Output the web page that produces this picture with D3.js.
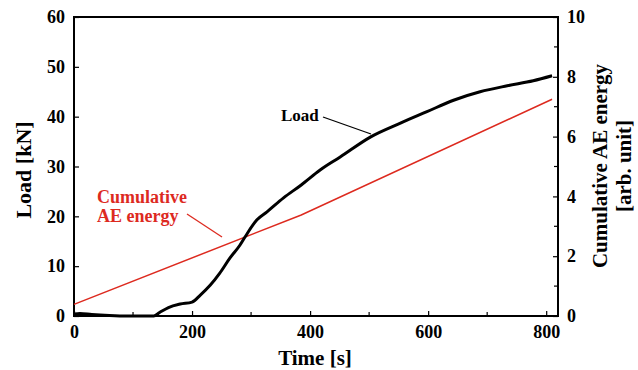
<!DOCTYPE html>
<html>
<head>
<meta charset="utf-8">
<script src="https://cdn.jsdelivr.net/npm/d3@7"></script>
<style>
  body { margin: 0; background: #fff; }
  svg text { font-family: "Liberation Serif", "Times New Roman", serif; font-weight: bold; }
</style>
</head>
<body>
<div id="chart"></div>
<script>
// load curve: [time s, load kN]
const load_time = [0, 10, 30, 60, 90, 135, 145, 160, 180, 200, 214, 231, 247, 264, 281, 290, 310, 327, 355, 385, 417, 451, 502, 553, 598, 643, 688, 734, 778, 810];
const load_kn = [0.4, 0.5, 0.3, 0.1, 0, 0, 0.7, 1.7, 2.4, 2.8, 4.2, 6.2, 8.6, 11.6, 14.2, 15.9, 19.3, 20.9, 23.7, 26.3, 29.3, 31.9, 35.9, 38.7, 41, 43.3, 45, 46.2, 47.2, 48.2];

// cumulative AE energy (right axis, arb. unit)
const ae_time = [0, 385, 810];
const ae_energy = [0.39, 3.38, 7.25];

const x_ticks = [0, 200, 400, 600, 800];
const x_minor = [100, 300, 500, 700];
const left_ticks = [0, 10, 20, 30, 40, 50, 60];
const right_ticks = [0, 2, 4, 6, 8, 10];
const right_minor = [1, 3, 5, 7, 9];

const width = 638, height = 370;
const margin = { left: 74, right: 80, top: 17, bottom: 54 };
const red = '#dd2a1f';

let svg = d3.select('#chart')
    .append('svg')
    .attr('width', width)
    .attr('height', height);

let x = d3.scaleLinear().domain([0, 820]).range([margin.left, width - margin.right]);
let y_left = d3.scaleLinear().domain([0, 60]).range([height - margin.bottom, margin.top]);
let y_right = d3.scaleLinear().domain([0, 10]).range([height - margin.bottom, margin.top]);

let plot_bottom = height - margin.bottom;
let plot_right = width - margin.right;

// ticks point inward
let ax_bottom = svg.append('g')
    .attr('transform', 'translate(0,' + plot_bottom + ')')
    .call(d3.axisBottom(x).tickValues(x_ticks).tickSizeInner(-5).tickSizeOuter(0).tickPadding(9));
ax_bottom.selectAll('.minor')
    .data(x_minor).enter()
    .append('line')
    .attr('x1', d => x(d)).attr('x2', d => x(d))
    .attr('y1', 0).attr('y2', -4)
    .attr('stroke', '#000').attr('stroke-width', 1.2);

let ax_left = svg.append('g')
    .attr('transform', 'translate(' + margin.left + ',0)')
    .call(d3.axisLeft(y_left).tickValues(left_ticks).tickSizeInner(-5).tickSizeOuter(0).tickPadding(9));

let ax_right = svg.append('g')
    .attr('transform', 'translate(' + plot_right + ',0)')
    .call(d3.axisRight(y_right).tickValues(right_ticks).tickSizeInner(-5).tickSizeOuter(0).tickPadding(9));
ax_right.selectAll('.minor')
    .data(right_minor).enter()
    .append('line')
    .attr('y1', d => y_right(d)).attr('y2', d => y_right(d))
    .attr('x1', 0).attr('x2', -4)
    .attr('stroke', '#000').attr('stroke-width', 1.2);

[ax_bottom, ax_left, ax_right].forEach(function (g) {
    g.select('.domain').remove();
    g.selectAll('.tick line').attr('stroke-width', 1.2);
    g.selectAll('.tick text')
        .attr('fill', '#000')
        .style('font-size', '18px');
});

// frame
svg.append('rect')
    .attr('x', margin.left)
    .attr('y', margin.top)
    .attr('width', plot_right - margin.left)
    .attr('height', plot_bottom - margin.top)
    .attr('fill', 'none')
    .attr('stroke', '#000')
    .attr('stroke-width', 2);

// AE energy line
let ae_line = d3.line()
    .x((d, i) => x(ae_time[i]))
    .y(d => y_right(d));
svg.append('path')
    .attr('d', ae_line(ae_energy))
    .attr('fill', 'none')
    .attr('stroke', red)
    .attr('stroke-width', 1.5);

// load curve
let load_line = d3.line()
    .x((d, i) => x(load_time[i]))
    .y(d => y_left(d))
    .curve(d3.curveMonotoneX);
svg.append('path')
    .attr('d', load_line(load_kn))
    .attr('fill', 'none')
    .attr('stroke', '#000')
    .attr('stroke-width', 3)
    .attr('stroke-linejoin', 'round');

// annotations
svg.append('text')
    .attr('x', 281).attr('y', 121)
    .style('font-size', '17px')
    .text('Load');
svg.append('line')
    .attr('x1', 323).attr('y1', 117)
    .attr('x2', 371).attr('y2', 134)
    .attr('stroke', '#000').attr('stroke-width', 1.3);

let ae_label = svg.append('text')
    .attr('x', 97).attr('y', 203)
    .attr('fill', red)
    .style('font-size', '18px');
ae_label.append('tspan').attr('x', 97).text('Cumulative');
ae_label.append('tspan').attr('x', 97).attr('dy', 19).text('AE energy');
svg.append('line')
    .attr('x1', 187).attr('y1', 214)
    .attr('x2', 222).attr('y2', 237)
    .attr('stroke', red).attr('stroke-width', 1.3);

// axis titles
svg.append('text')
    .attr('x', 315).attr('y', 365)
    .attr('text-anchor', 'middle')
    .style('font-size', '21px')
    .text('Time [s]');

svg.append('text')
    .attr('transform', 'translate(31,170) rotate(-90)')
    .attr('text-anchor', 'middle')
    .style('font-size', '22px')
    .text('Load [kN]');

let right_title = svg.append('text')
    .attr('transform', 'translate(607,166) rotate(-90)')
    .attr('text-anchor', 'middle')
    .style('font-size', '21px');
right_title.append('tspan').attr('x', 0).attr('y', 0).text('Cumulative AE energy');
right_title.append('tspan').attr('x', 0).attr('y', 24).text('[arb. unit]');
</script>
</body>
</html>
